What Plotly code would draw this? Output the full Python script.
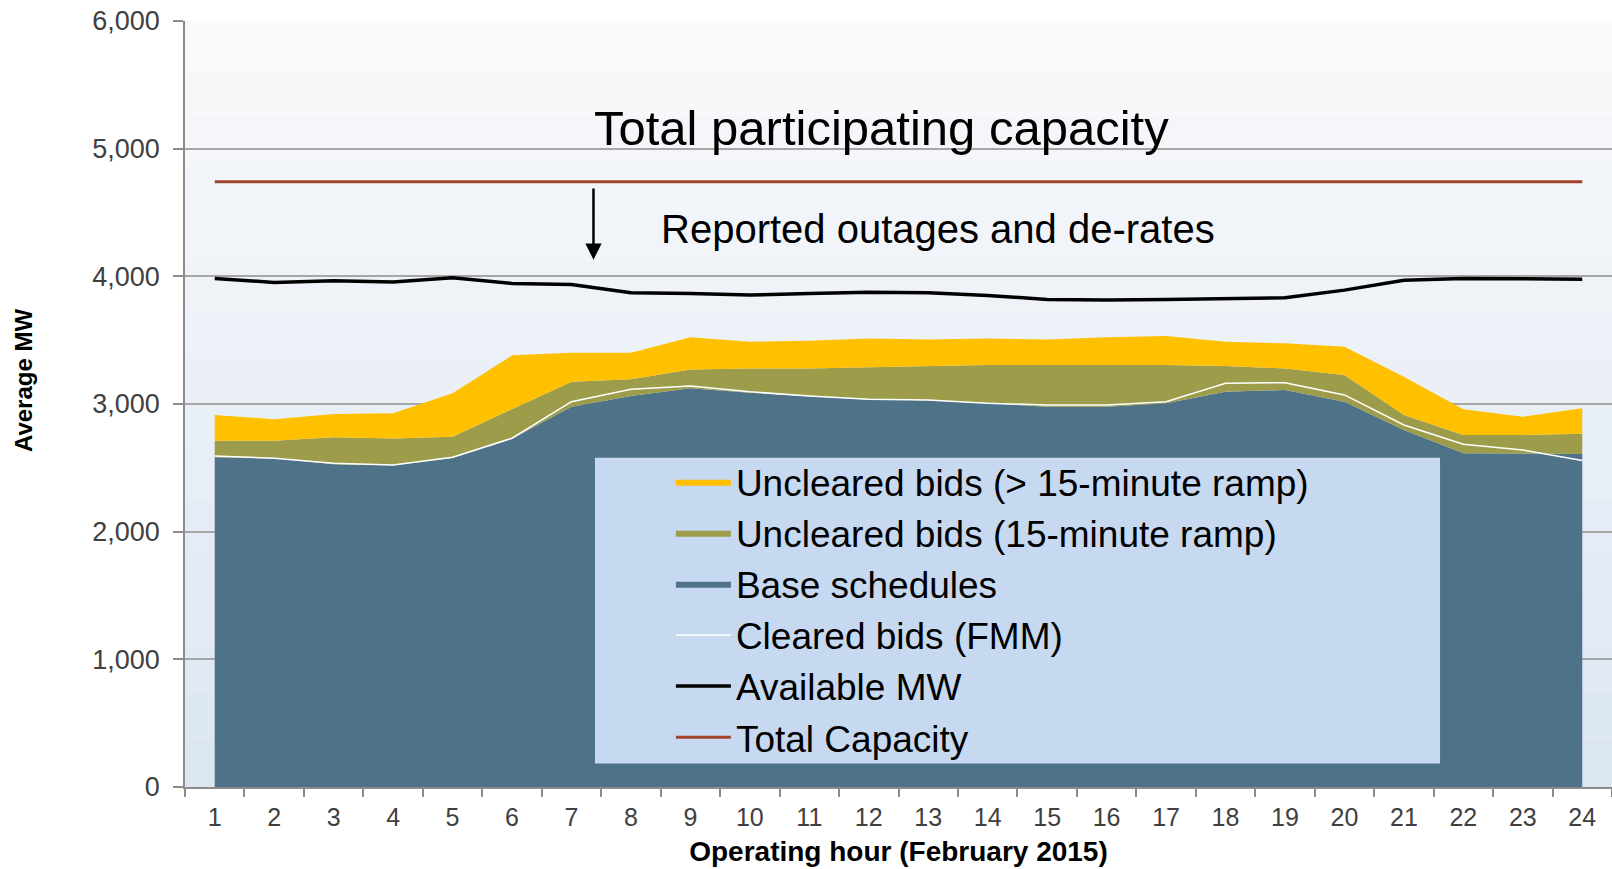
import plotly.graph_objects as go

hours = [str(h) for h in range(1, 25)]

base_schedules = [2583, 2575, 2528, 2520, 2578, 2728, 2979, 3063, 3123, 3088, 3060, 3035,
                  3030, 3003, 2979, 2979, 3006, 3096, 3110, 3018, 2797, 2614, 2614, 2609]
uncleared_15 = [130, 138, 212, 209, 166, 230, 196, 130, 148, 191, 219, 252,
                267, 302, 326, 326, 299, 201, 169, 209, 117, 144, 144, 157]
uncleared_gt15 = [201, 167, 182, 198, 340, 423, 226, 208, 251, 209, 216, 227,
                  208, 209, 200, 217, 227, 191, 196, 222, 300, 200, 143, 200]
cleared_fmm = [2593, 2575, 2536, 2523, 2583, 2732, 3018, 3115, 3141, 3096, 3062, 3037,
               3032, 3006, 2992, 2992, 3018, 3162, 3167, 3071, 2836, 2685, 2640, 2557]
available_mw = [3983, 3952, 3965, 3955, 3988, 3944, 3936, 3872, 3866, 3853, 3866, 3876,
                3872, 3850, 3819, 3814, 3819, 3827, 3832, 3892, 3970, 3983, 3980, 3978]
total_capacity = [4740] * 24

y_ticks = [0, 1000, 2000, 3000, 4000, 5000, 6000]

FONT = "Liberation Sans, Arial, sans-serif"
C_BASE = "#4e7389"
C_OLIVE = "#9c9c4a"
C_YELLOW = "#ffc000"
C_TOTAL = "#a2432c"

fig = go.Figure()
fig.add_trace(go.Scatter(x=hours, y=base_schedules, name="Base schedules", mode="lines",
                         stackgroup="s", line=dict(width=0, color=C_BASE), fillcolor=C_BASE,
                         legendrank=3))
fig.add_trace(go.Scatter(x=hours, y=uncleared_15, name="Uncleared bids (15-minute ramp)", mode="lines",
                         stackgroup="s", line=dict(width=0, color=C_OLIVE), fillcolor=C_OLIVE,
                         legendrank=2))
fig.add_trace(go.Scatter(x=hours, y=uncleared_gt15, name="Uncleared bids (> 15-minute ramp)", mode="lines",
                         stackgroup="s", line=dict(width=0, color=C_YELLOW), fillcolor=C_YELLOW,
                         legendrank=1))
fig.add_trace(go.Scatter(x=hours, y=cleared_fmm, name="Cleared bids (FMM)", mode="lines",
                         line=dict(width=1.5, color="#ffffff"), legendrank=4))
fig.add_trace(go.Scatter(x=hours, y=available_mw, name="Available MW", mode="lines",
                         line=dict(width=3.5, color="#000000"), legendrank=5))
fig.add_trace(go.Scatter(x=hours, y=total_capacity, name="Total Capacity", mode="lines",
                         line=dict(width=3, color=C_TOTAL), legendrank=6))

# soft vertical gradient for the plot background
shapes = []
n = 16
top = (248, 249, 251)
bot = (220, 230, 243)
for i in range(n):
    t = i / (n - 1)
    c = tuple(round(bot[k] + (top[k] - bot[k]) * t) for k in range(3))
    shapes.append(dict(type="rect", xref="paper", yref="paper", x0=0, x1=1,
                       y0=i / n, y1=(i + 1) / n, fillcolor="rgb(%d,%d,%d)" % c,
                       line=dict(width=0), layer="below"))
# legend panel
shapes.append(dict(type="rect", xref="paper", yref="paper", x0=0.2873, x1=0.8795,
                   y0=0.0307, y1=0.4299, fillcolor="#c6d9f0", line=dict(width=0), layer="above"))

fig.update_layout(
    width=1612, height=869,
    margin=dict(l=185, r=0, t=21, b=82),
    paper_bgcolor="#ffffff",
    plot_bgcolor="#f4f6fa",
    font=dict(family=FONT, color="#404040"),
    shapes=shapes,
    showlegend=True,
    legend=dict(x=0.3405, y=0.4385, xanchor="left", yanchor="top",
                bgcolor="rgba(0,0,0,0)", borderwidth=0,
                font=dict(family=FONT, size=37, color="#000000"),
                itemwidth=55, traceorder="normal", tracegroupgap=0),
    xaxis=dict(type="category", range=[-0.5, 23.5], tickson="boundaries",
               ticks="outside", ticklen=8, tickcolor="#8c8c8c", tickwidth=1.5,
               showline=True, linecolor="#8c8c8c", linewidth=1.5,
               showgrid=False, tickfont=dict(size=25, color="#404040"),
               ticklabelstandoff=7,
               title=dict(text="<b>Operating hour (February 2015)</b>",
                          font=dict(size=28, color="#000000"), standoff=12)),
    yaxis=dict(range=[0, 6000], tickvals=y_ticks, tickformat=",",
               ticks="outside", ticklen=10, tickcolor="#8c8c8c", tickwidth=1.5,
               showline=True, linecolor="#8c8c8c", linewidth=1.5,
               showgrid=True, gridcolor="#a6a6a6", gridwidth=1.5,
               zeroline=False, tickfont=dict(size=27, color="#404040"),
               ticklabelstandoff=8),
    annotations=[
        dict(text="<b>Average MW</b>", x=-0.1135, y=0.530, xref="paper", yref="paper",
             textangle=-90, showarrow=False, xanchor="center", yanchor="middle",
             font=dict(family=FONT, size=24, color="#000000")),
        dict(text="Total participating capacity", x=11.22, y=5165, xref="x", yref="y",
             showarrow=False, xanchor="center", yanchor="middle",
             font=dict(family=FONT, size=49, color="#000000")),
        dict(text="Reported outages and de-rates", x=7.47, y=4370, xref="x", yref="y",
             showarrow=False, xanchor="left", yanchor="middle",
             font=dict(family=FONT, size=40, color="#000000")),
        dict(text="", x=6.37, y=4130, ax=6.37, ay=4700, xref="x", yref="y",
             axref="x", ayref="y", showarrow=True, arrowhead=2, arrowsize=1.3,
             arrowwidth=2.5, arrowcolor="#000000"),
    ],
)

fig.write_html("out.html", config={"displayModeBar": False},
               post_script="document.body.style.margin='0';document.body.style.overflow='hidden';")
